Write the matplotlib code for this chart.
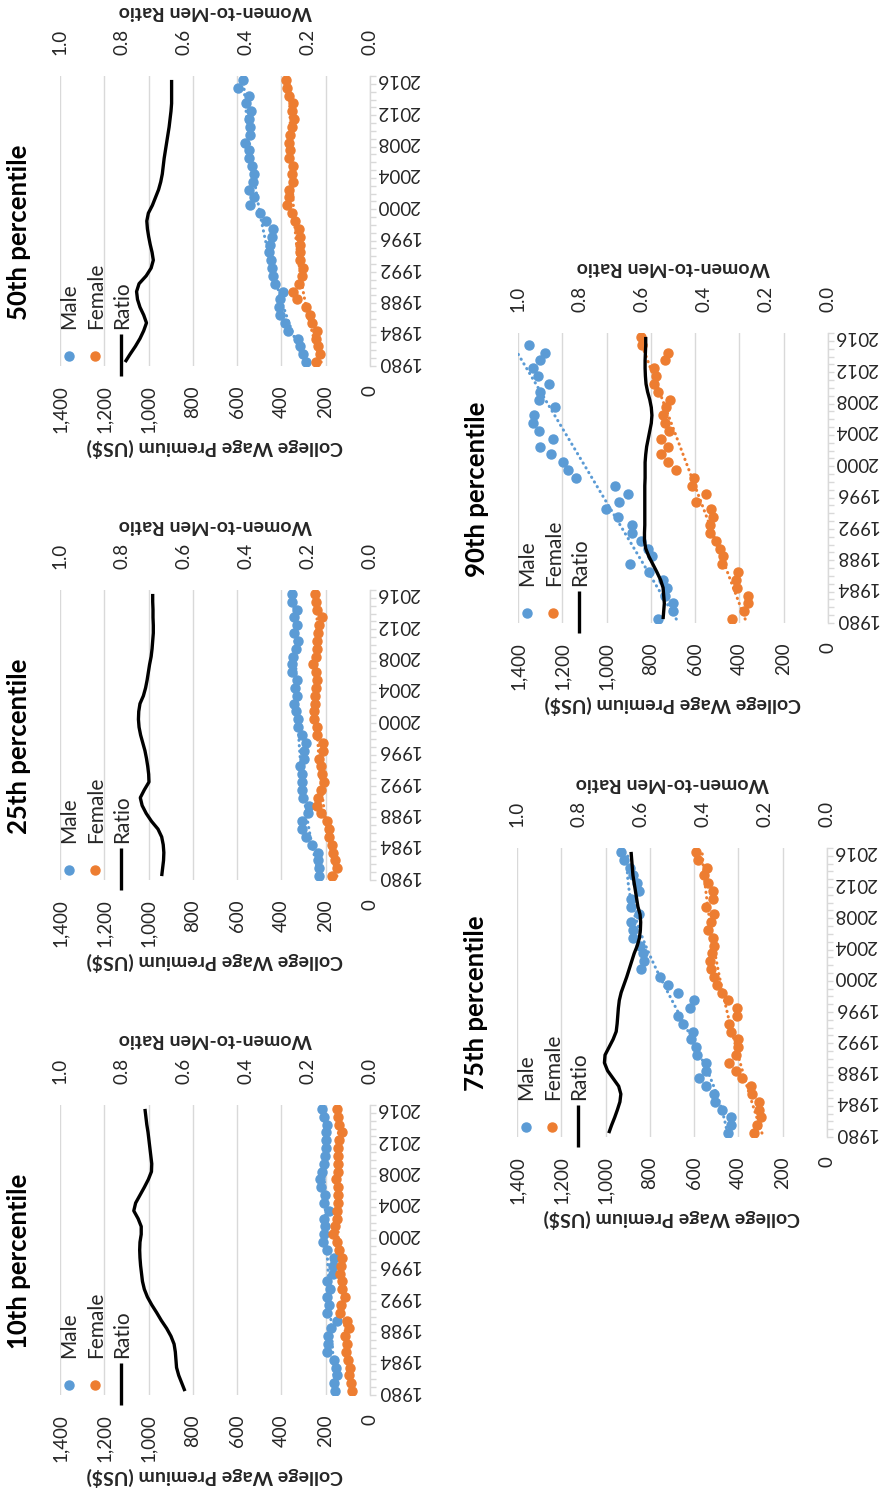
import numpy as np
import matplotlib
matplotlib.use('Agg')
import matplotlib.pyplot as plt

plt.rcParams['font.family'] = ['Lato', 'DejaVu Sans']

# ---------------- data ----------------
years = list(range(1980, 2017))
titles = ['10th percentile', '25th percentile', '50th percentile',
          '75th percentile', '90th percentile']

male_p10 = [158, 162, 149, 154, 162, 192, 188, 188, 177, 149, 192, 185, 192, 180, 192, 169, 169, 162, 192,
            211, 208, 205, 208, 185, 208, 203, 220, 226, 215, 208, 205, 197, 197, 197, 192, 208, 215]
female_p10 = [82, 85, 97, 92, 100, 108, 105, 115, 97, 103, 134, 131, 115, 128, 128, 134, 131, 128, 138,
              149, 165, 158, 149, 149, 146, 143, 146, 154, 146, 143, 143, 143, 138, 128, 138, 146, 149]
ratio_p10 = [0.597, 0.607, 0.617, 0.624, 0.626, 0.628, 0.632, 0.642, 0.656, 0.673, 0.688, 0.704, 0.718,
             0.728, 0.734, 0.737, 0.740, 0.742, 0.743, 0.742, 0.738, 0.738, 0.748, 0.762, 0.756, 0.742,
             0.728, 0.715, 0.705, 0.704, 0.707, 0.710, 0.713, 0.716, 0.720, 0.723, 0.726]

male_p25 = [230, 230, 233, 233, 264, 291, 309, 309, 279, 276, 303, 306, 309, 309, 318, 298, 298, 291, 309,
            324, 325, 336, 343, 328, 340, 328, 354, 351, 348, 336, 324, 343, 328, 343, 328, 351, 351]
female_p25 = [170, 148, 158, 166, 173, 185, 185, 193, 223, 238, 233, 223, 208, 218, 223, 230, 212, 212, 238,
              238, 253, 253, 248, 248, 245, 238, 245, 258, 245, 238, 238, 233, 230, 218, 241, 245, 248]
ratio_p25 = [0.672, 0.669, 0.666, 0.665, 0.667, 0.672, 0.684, 0.705, 0.722, 0.735, 0.741, 0.728, 0.713,
             0.714, 0.717, 0.721, 0.726, 0.733, 0.740, 0.745, 0.747, 0.746, 0.742, 0.731, 0.724, 0.719,
             0.715, 0.711, 0.706, 0.703, 0.701, 0.699, 0.699, 0.700, 0.700, 0.701, 0.701]

male_p50 = [290, 301, 316, 324, 369, 384, 406, 413, 406, 394, 428, 436, 443, 448, 454, 451, 443, 436, 469,
            499, 540, 525, 548, 528, 525, 533, 548, 548, 563, 540, 540, 548, 537, 560, 548, 597, 573]
female_p50 = [245, 227, 234, 242, 239, 264, 269, 290, 328, 349, 319, 309, 301, 316, 316, 316, 316, 319, 339,
              354, 373, 364, 364, 346, 354, 349, 364, 361, 364, 361, 354, 342, 354, 346, 364, 373, 379]
ratio_p50 = [0.790, 0.774, 0.757, 0.742, 0.730, 0.721, 0.730, 0.742, 0.750, 0.753, 0.745, 0.722, 0.706,
             0.699, 0.703, 0.709, 0.714, 0.718, 0.720, 0.715, 0.702, 0.692, 0.682, 0.675, 0.670, 0.667,
             0.664, 0.660, 0.656, 0.652, 0.648, 0.645, 0.642, 0.640, 0.640, 0.640, 0.640]

male_p75 = [449, 434, 434, 476, 506, 512, 546, 576, 546, 546, 587, 591, 614, 606, 651, 671, 617, 599, 671,
            718, 756, 838, 826, 830, 845, 875, 875, 883, 848, 883, 883, 850, 860, 875, 890, 916, 931]
female_p75 = [330, 315, 297, 307, 307, 337, 345, 382, 412, 442, 412, 404, 404, 434, 442, 407, 407, 449, 476,
              497, 509, 524, 527, 521, 512, 517, 539, 524, 509, 546, 517, 517, 539, 554, 542, 581, 591]
ratio_p75 = [0.704, 0.695, 0.685, 0.676, 0.668, 0.665, 0.672, 0.690, 0.708, 0.718, 0.716, 0.703, 0.690,
             0.680, 0.677, 0.675, 0.673, 0.670, 0.664, 0.655, 0.646, 0.638, 0.630, 0.622, 0.612, 0.605,
             0.602, 0.601, 0.603, 0.610, 0.614, 0.618, 0.622, 0.626, 0.628, 0.630, 0.632]

male_p90 = [769, 699, 699, 736, 729, 744, 807, 895, 797, 812, 846, 887, 883, 948, 1003, 943, 902, 963, 1139,
            1174, 1196, 1249, 1299, 1242, 1305, 1332, 1328, 1234, 1305, 1299, 1260, 1310, 1332, 1299, 1279,
            1350, 1430]
female_p90 = [432, 381, 361, 361, 411, 414, 406, 477, 474, 486, 504, 531, 534, 519, 527, 594, 552, 613, 607,
              688, 723, 752, 723, 752, 718, 738, 745, 733, 715, 768, 787, 775, 787, 738, 723, 838, 843]
ratio_p90 = [0.532, 0.530, 0.528, 0.530, 0.532, 0.540, 0.552, 0.565, 0.578, 0.588, 0.592, 0.592, 0.591,
             0.591, 0.591, 0.591, 0.591, 0.591, 0.590, 0.590, 0.590, 0.588, 0.585, 0.580, 0.575, 0.570,
             0.568, 0.570, 0.575, 0.582, 0.587, 0.589, 0.590, 0.590, 0.589, 0.588, 0.588]

males = [male_p10, male_p25, male_p50, male_p75, male_p90]
females = [female_p10, female_p25, female_p50, female_p75, female_p90]
ratios = [ratio_p10, ratio_p25, ratio_p50, ratio_p75, ratio_p90]
trend_deg = [3, 3, 3, 3, 1]

wage_ticks = [0, 200, 400, 600, 800, 1000, 1200, 1400]
ratio_ticks = [0.0, 0.2, 0.4, 0.6, 0.8, 1.0]
legend_labels = ['Male', 'Female', 'Ratio']

# ---------------- style / layout ----------------
BLUE = '#5B9BD5'
ORANGE = '#ED7D31'
GRID = '#D9D9D9'
TXT = '#262626'

W, H = 888, 1493
# panel boxes in pixels: x_left, x_right, y_top, y_bottom
boxes = [(60, 370, 1105, 1395),
         (60, 370, 590, 880),
         (60, 370, 76, 366),
         (517, 827, 848, 1137),
         (518, 828, 333, 623)]

fig = plt.figure(figsize=(W / 100, H / 100), dpi=100)


def add_panel(box, title, male, female, ratio, deg):
    x0, x1, yt, yb = box
    pw, ph = x1 - x0, yb - yt
    ax = fig.add_axes([x0 / W, (H - yb) / H, pw / W, ph / H])
    n = len(years)
    idx = np.arange(n)

    ax.set_xlim(1400, 0)
    ax.set_ylim(-0.5, n - 0.5)

    # grid + axis
    ax.set_xticks(wage_ticks)
    ax.set_xticklabels([f'{v:,}' for v in wage_ticks], rotation=90)
    ax.tick_params(axis='x', length=0, pad=14, labelsize=13.5, labelcolor=TXT)
    ax.grid(axis='x', color=GRID, lw=1)
    ax.set_axisbelow(True)
    for s in ['top', 'left', 'bottom']:
        ax.spines[s].set_visible(False)
    ax.spines['right'].set_color(GRID)
    ax.spines['right'].set_linewidth(1)

    ax.yaxis.tick_right()
    ax.set_yticks(idx[::4])
    ax.set_yticklabels([str(y) for y in years[::4]], rotation=180, va='center')
    ax.set_yticks(np.arange(-0.5, n, 1), minor=True)
    ax.tick_params(axis='y', which='major', length=0, pad=5, labelsize=13.5, labelcolor=TXT)
    ax.tick_params(axis='y', which='minor', length=4, width=1, color=GRID, right=True, left=False)

    # trendlines (round dotted)
    xs = np.linspace(0, n - 1, 200)
    for vals, col in [(male, BLUE), (female, ORANGE)]:
        v = np.asarray(vals, float)
        c = np.polyfit(idx, v, deg)
        ax.plot(np.polyval(c, xs), xs, color=col, lw=2.2, ls=(0, (0.1, 1.7)),
                dash_capstyle='round', zorder=2)

    # scatter
    ax.plot(male, idx, 'o', color=BLUE, ms=6.5, ls='none', zorder=3)
    ax.plot(female, idx, 'o', color=ORANGE, ms=6.5, ls='none', zorder=3)

    # ratio on secondary axis
    ax2 = ax.twiny()
    ax2.set_xlim(1.0, 0.0)
    ax2.set_ylim(-0.5, n - 0.5)
    ax2.set_xticks(ratio_ticks)
    ax2.set_xticklabels([f'{v:.1f}' for v in ratio_ticks], rotation=90)
    ax2.tick_params(axis='x', length=0, pad=15, labelsize=13.5, labelcolor=TXT)
    for s in ax2.spines.values():
        s.set_visible(False)
    ax2.plot(ratio, idx, color='black', lw=2.4, zorder=4, solid_capstyle='butt')

    # axis titles
    ax.text(0.5, -82 / ph, 'College Wage Premium (US$)', rotation=180, transform=ax.transAxes,
            ha='center', va='center', fontsize=14, fontweight='bold', color=TXT)
    ax.text(0.5, 1 + 65 / ph, 'Women-to-Men Ratio', rotation=180, transform=ax.transAxes,
            ha='center', va='center', fontsize=14, fontweight='bold', color=TXT)
    # panel title
    ax.text(-41 / pw, 0.5 - 11 / ph, title, rotation=90, transform=ax.transAxes,
            ha='center', va='center', fontsize=18.5, fontweight='bold', color='black')

    # legend (built by hand, rotated)
    tr = ax.transAxes
    ax2.plot([0.030], [0.035], 'o', color=BLUE, ms=6.5, transform=tr, clip_on=False)
    ax2.plot([0.113], [0.035], 'o', color=ORANGE, ms=6.5, transform=tr, clip_on=False)
    ax2.plot([0.198, 0.198], [-0.034, 0.110], color='black', lw=2.4, transform=tr,
             clip_on=False, solid_capstyle='butt')
    for xt, lab in zip([0.030, 0.117, 0.200], legend_labels):
        ax2.text(xt, 0.128, lab, rotation=90, transform=tr, ha='center', va='bottom',
                 fontsize=15, color=TXT)
    return ax


for i in range(5):
    add_panel(boxes[i], titles[i], males[i], females[i], ratios[i], trend_deg[i])

fig.savefig('out.png', dpi=100)
